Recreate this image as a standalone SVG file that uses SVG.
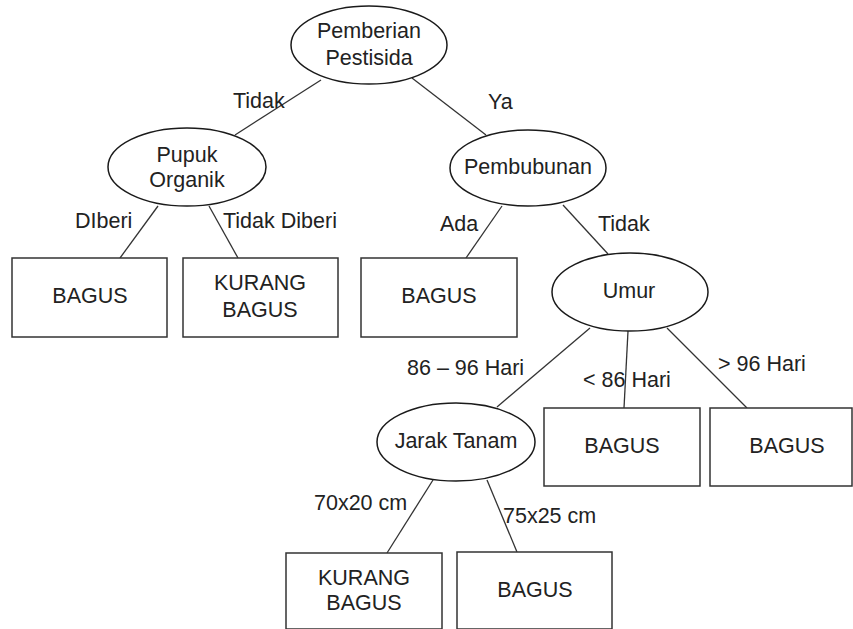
<svg xmlns="http://www.w3.org/2000/svg" width="853" height="629" viewBox="0 0 853 629">
<style>
.n{fill:#fff;stroke:#1a1a1a;stroke-width:1.5}
.b{fill:#fff;stroke:#333;stroke-width:1.5}
.e{stroke:#333;stroke-width:1.3;fill:none}
text{font-family:"Liberation Sans",Arial,sans-serif;font-size:21.5px;fill:#222}
.c{text-anchor:middle}
</style>
<rect width="853" height="629" fill="#fff"/>
<g id="connectors">
<line class="e" x1="321" y1="80" x2="235" y2="135"/>
<line class="e" x1="412" y1="78" x2="486" y2="135"/>
<line class="e" x1="158" y1="206" x2="120" y2="258"/>
<line class="e" x1="209" y1="206" x2="238" y2="258"/>
<line class="e" x1="502" y1="206" x2="466" y2="258"/>
<line class="e" x1="563" y1="205" x2="608" y2="254"/>
<line class="e" x1="590" y1="328" x2="497" y2="407"/>
<line class="e" x1="628" y1="331" x2="624" y2="408"/>
<line class="e" x1="667" y1="328" x2="747" y2="408"/>
<line class="e" x1="433" y1="480" x2="387" y2="553"/>
<line class="e" x1="487" y1="480" x2="517" y2="552"/>
</g>
<g id="labels">
<text x="233" y="108">Tidak</text>
<text x="488" y="109">Ya</text>
<text x="75" y="228">DIberi</text>
<text x="223" y="228">Tidak Diberi</text>
<text x="440" y="231">Ada</text>
<text x="598" y="231">Tidak</text>
<text x="407" y="375">86 – 96 Hari</text>
<text x="583" y="387">&lt; 86 Hari</text>
<text x="718" y="371">&gt; 96 Hari</text>
<text x="314" y="510">70x20 cm</text>
<text x="503" y="523">75x25 cm</text>
</g>
<g id="root">
<ellipse class="n" cx="369" cy="45" rx="78" ry="39"/>
<text class="c" x="369" y="38">Pemberian</text>
<text class="c" x="369" y="65">Pestisida</text>
</g>
<g id="pupuk">
<ellipse class="n" cx="187" cy="167" rx="79" ry="39"/>
<text class="c" x="187" y="162">Pupuk</text>
<text class="c" x="187" y="187">Organik</text>
</g>
<g id="pembubunan">
<ellipse class="n" cx="528" cy="168" rx="78" ry="38"/>
<text class="c" x="528" y="174">Pembubunan</text>
</g>
<g id="umur">
<ellipse class="n" cx="630" cy="292" rx="78" ry="39"/>
<text class="c" x="629" y="298">Umur</text>
</g>
<g id="jarak">
<ellipse class="n" cx="456" cy="442" rx="79" ry="39"/>
<text class="c" x="456" y="448">Jarak Tanam</text>
</g>
<g id="leaf1">
<rect class="b" x="12" y="258" width="155" height="79"/>
<text class="c" x="90" y="303">BAGUS</text>
</g>
<g id="leaf2">
<rect class="b" x="183" y="258" width="155" height="79"/>
<text class="c" x="260" y="290">KURANG</text>
<text class="c" x="260" y="317">BAGUS</text>
</g>
<g id="leaf3">
<rect class="b" x="361" y="258" width="156" height="79"/>
<text class="c" x="439" y="303">BAGUS</text>
</g>
<g id="leaf4">
<rect class="b" x="544" y="408" width="156" height="78"/>
<text class="c" x="622" y="453">BAGUS</text>
</g>
<g id="leaf5">
<rect class="b" x="710" y="408" width="142" height="78"/>
<text class="c" x="787" y="453">BAGUS</text>
</g>
<g id="leaf6">
<rect class="b" x="286" y="553" width="156" height="76"/>
<text class="c" x="364" y="585">KURANG</text>
<text class="c" x="364" y="610">BAGUS</text>
</g>
<g id="leaf7">
<rect class="b" x="457" y="552" width="155" height="77"/>
<text class="c" x="535" y="597">BAGUS</text>
</g>
</svg>
